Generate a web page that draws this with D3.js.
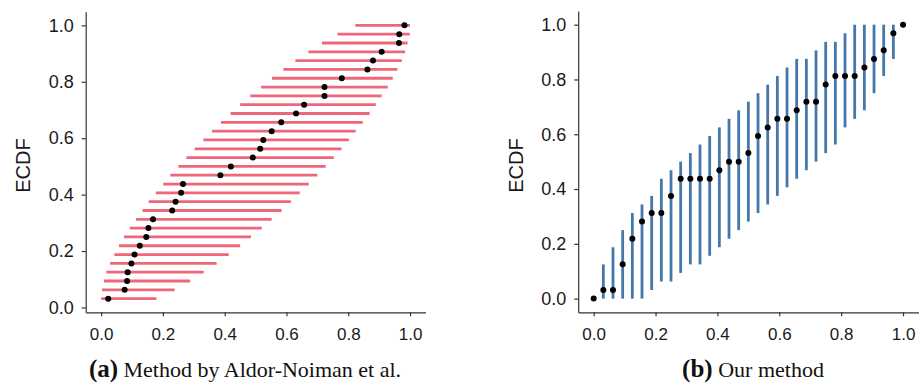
<!DOCTYPE html>
<html>
<head>
<meta charset="utf-8">
<script src="https://cdn.jsdelivr.net/npm/d3@7"></script>
<style>
  html, body { margin: 0; padding: 0; background: #fff; }
  svg { display: block; }
  .axis text { font-family: "Liberation Sans", Arial, sans-serif; fill: #1a1a1a; }
  .axis path, .axis line { stroke: #333; stroke-width: 1.2px; }
</style>
</head>
<body>
<svg id="chart" width="923" height="385"></svg>
<script>
// Sample size
const n = 32;

// (a) sorted sample values and their ECDF counts
const sampleValues = [0.023, 0.076, 0.084, 0.086, 0.098, 0.108, 0.125, 0.146, 0.153, 0.168,
  0.230, 0.241, 0.259, 0.265, 0.386, 0.420, 0.491, 0.515, 0.525, 0.552, 0.583, 0.631,
  0.657, 0.723, 0.723, 0.779, 0.862, 0.880, 0.908, 0.964, 0.965, 0.982];
const sampleCounts = [1, 2, 3, 4, 5, 6, 7, 8, 9, 10, 11, 12, 13, 14, 15, 16, 17, 18, 19, 20,
  21, 22, 23, 24, 25, 26, 27, 28, 29, 30, 31, 32];
// (a) horizontal interval per order statistic
const intervalLower = [0.000, 0.003, 0.009, 0.017, 0.029, 0.043, 0.058, 0.074, 0.093, 0.113,
  0.134, 0.154, 0.177, 0.201, 0.224, 0.250, 0.276, 0.303, 0.331, 0.359, 0.388, 0.419,
  0.450, 0.483, 0.518, 0.553, 0.590, 0.629, 0.671, 0.715, 0.765, 0.823];
const intervalUpper = [0.179, 0.238, 0.288, 0.332, 0.374, 0.413, 0.450, 0.485, 0.520, 0.552,
  0.584, 0.614, 0.643, 0.672, 0.700, 0.727, 0.753, 0.778, 0.802, 0.824, 0.847, 0.869,
  0.889, 0.908, 0.928, 0.944, 0.959, 0.973, 0.984, 0.992, 0.999, 1.000];

// (b) evaluation grid steps (x = step / n), ECDF counts and band limits (counts / n)
const gridSteps = [0, 1, 2, 3, 4, 5, 6, 7, 8, 9, 10, 11, 12, 13, 14, 15, 16, 17, 18, 19, 20,
  21, 22, 23, 24, 25, 26, 27, 28, 29, 30, 31, 32];
const ecdfCounts = [0, 1, 1, 4, 7, 9, 10, 10, 12, 14, 14, 14, 14, 15, 16, 16, 17, 19, 20, 21, 21,
  22, 23, 23, 25, 26, 26, 26, 27, 28, 29, 31, 32];
const bandLowerCounts = [null, 0, 0, 0, 0, 0, 1, 2, 2, 3, 4, 4, 5, 6, 7, 8, 9, 10, 11, 12, 13,
  14, 15, 16, 17, 18, 20, 21, 22, 24, 26, 28, null];
const bandUpperCounts = [null, 4, 6, 8, 10, 11, 12, 14, 15, 16, 17, 18, 19, 20, 21, 22, 23, 24,
  25, 26, 27, 28, 28, 29, 30, 30, 31, 32, 32, 32, 32, 32, null];

const tickValues = [0, 0.2, 0.4, 0.6, 0.8, 1.0];
const yLabel = "ECDF";
const captions = [
  { tag: "(a)", text: " Method by Aldor-Noiman et al." },
  { tag: "(b)", text: " Our method" }
];

const red = "#EE6677";
const blue = "#4477AA";

const svg = d3.select("#chart");
svg.append("rect").attr("width", 923).attr("height", 385).attr("fill", "#fff");

function drawAxes(g, x, y, labelX) {
  g.append("g").attr("class", "axis")
    .attr("transform", `translate(0,${y.range()[0]})`)
    .call(d3.axisBottom(x).tickValues(tickValues).tickFormat(d3.format(".1f"))
      .tickSize(4).tickSizeOuter(0).tickPadding(12))
    .selectAll("text").style("font-size", "17px");
  g.append("g").attr("class", "axis")
    .attr("transform", `translate(${x.range()[0]},0)`)
    .call(d3.axisLeft(y).tickValues(tickValues).tickFormat(d3.format(".1f"))
      .tickSize(4).tickSizeOuter(0).tickPadding(8))
    .selectAll("text").style("font-size", "18px");
  g.append("text")
    .attr("transform", `translate(${labelX},165.5) rotate(-90)`)
    .attr("text-anchor", "middle")
    .style("font-family", "'Liberation Sans', Arial, sans-serif")
    .style("font-size", "20px")
    .attr("fill", "#1a1a1a")
    .text(yLabel);
}

function drawCaption(c, cx) {
  const t = svg.append("text")
    .attr("x", cx).attr("y", 377)
    .attr("text-anchor", "middle")
    .style("font-family", "'Liberation Serif', 'Times New Roman', serif")
    .style("font-size", "22px")
    .attr("fill", "#111");
  t.append("tspan").style("font-weight", "bold").style("font-size", "25px").text(c.tag);
  t.append("tspan").text(c.text);
}

// ---- Panel (a): horizontal intervals around each order statistic ----
{
  const x = d3.scaleLinear().domain([-0.05, 1.05]).range([85.7, 425.5]);
  const lo = 1 / n, padY = (1 - lo) * 0.05;
  const y = d3.scaleLinear().domain([lo - padY, 1 + padY]).range([312.3, 11.7]);
  const g = svg.append("g");
  drawAxes(g, x, y, 30);

  const rows = sampleCounts.map((c, i) => ({
    p: c / n, v: sampleValues[i], lo: intervalLower[i], hi: intervalUpper[i]
  }));
  g.selectAll("line.interval").data(rows).join("line")
    .attr("class", "interval")
    .attr("x1", d => x(d.lo)).attr("x2", d => x(d.hi))
    .attr("y1", d => y(d.p)).attr("y2", d => y(d.p))
    .attr("stroke", red).attr("stroke-width", 2.8);
  g.selectAll("circle").data(rows).join("circle")
    .attr("cx", d => x(d.v)).attr("cy", d => y(d.p))
    .attr("r", 3).attr("fill", "#000");
  drawCaption(captions[0], 245);
}

// ---- Panel (b): vertical bands on the uniform grid ----
{
  const x = d3.scaleLinear().domain([-0.05, 1.05]).range([578.2, 918.5]);
  const y = d3.scaleLinear().domain([-0.05, 1.05]).range([312.3, 11]);
  const g = svg.append("g");
  drawAxes(g, x, y, 522.7);

  const pts = gridSteps.map((s, i) => ({
    x: s / n, p: ecdfCounts[i],
    lo: bandLowerCounts[i], hi: bandUpperCounts[i]
  }));
  g.selectAll("line.band").data(pts.filter(d => d.lo !== null)).join("line")
    .attr("class", "band")
    .attr("x1", d => x(d.x)).attr("x2", d => x(d.x))
    .attr("y1", d => y(d.lo / n)).attr("y2", d => y(d.hi / n))
    .attr("stroke", blue).attr("stroke-width", 2.8);
  g.selectAll("circle").data(pts).join("circle")
    .attr("cx", d => x(d.x)).attr("cy", d => y(d.p / n))
    .attr("r", 3).attr("fill", "#000");
  drawCaption(captions[1], 753);
}
</script>
</body>
</html>
